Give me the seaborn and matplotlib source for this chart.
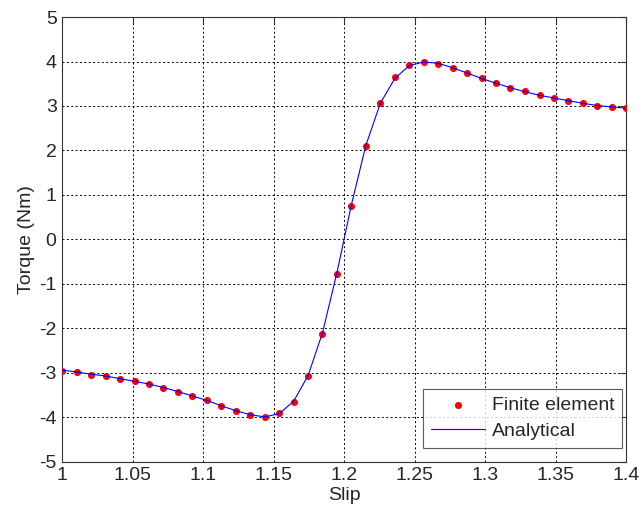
import pandas as pd
import matplotlib
matplotlib.use("Agg")
import matplotlib.pyplot as plt
import seaborn as sns

# slip values of the finite element runs (40 points between 1 and 1.4)
slip = [1.0000, 1.0103, 1.0205, 1.0308, 1.0410, 1.0513, 1.0615, 1.0718, 1.0821, 1.0923,
        1.1026, 1.1128, 1.1231, 1.1333, 1.1436, 1.1538, 1.1641, 1.1744, 1.1846, 1.1949,
        1.2051, 1.2154, 1.2256, 1.2359, 1.2462, 1.2564, 1.2667, 1.2769, 1.2872, 1.2974,
        1.3077, 1.3179, 1.3282, 1.3385, 1.3487, 1.3590, 1.3692, 1.3795, 1.3897, 1.4000]

torque_fe = [-2.95, -2.99, -3.04, -3.07, -3.14, -3.19, -3.24, -3.33, -3.42, -3.53,
             -3.62, -3.74, -3.86, -3.94, -4.00, -3.91, -3.65, -3.08, -2.12, -0.77,
             0.75, 2.10, 3.07, 3.65, 3.92, 3.98, 3.95, 3.85, 3.74, 3.62,
             3.51, 3.41, 3.33, 3.24, 3.18, 3.12, 3.07, 3.01, 2.98, 2.95]

torque_analytical = [-2.94, -2.98, -3.03, -3.07, -3.13, -3.19, -3.25, -3.33, -3.42, -3.52,
                     -3.62, -3.74, -3.85, -3.94, -3.99, -3.92, -3.64, -3.06, -2.10, -0.74,
                     0.78, 2.12, 3.06, 3.62, 3.91, 3.99, 3.96, 3.86, 3.74, 3.62,
                     3.51, 3.41, 3.32, 3.24, 3.18, 3.12, 3.06, 3.01, 2.98, 2.95]

xticks = [1, 1.05, 1.1, 1.15, 1.2, 1.25, 1.3, 1.35, 1.4]
xticklabels = ["1", "1.05", "1.1", "1.15", "1.2", "1.25", "1.3", "1.35", "1.4"]
yticks = list(range(-5, 6))

df = pd.DataFrame({"Slip": slip, "FE": torque_fe, "Analytical": torque_analytical})

sns.set_style("white")
plt.rcParams["font.family"] = ["Liberation Sans", "DejaVu Sans"]
plt.rcParams["font.size"] = 14
plt.rcParams["axes.unicode_minus"] = False

fig = plt.figure(figsize=(6.41, 5.16), dpi=100)
ax = fig.add_axes([0.097, 0.105, 0.880, 0.862])

sns.scatterplot(data=df, x="Slip", y="FE", ax=ax, color="red", s=26,
                edgecolor="red", linewidth=0, label="Finite element", zorder=3)
sns.lineplot(data=df, x="Slip", y="Analytical", ax=ax, color="blue", linewidth=0.8,
             label="Analytical", zorder=4)

ax.set_xlim(1, 1.4)
ax.set_ylim(-5, 5)
ax.set_xticks(xticks)
ax.set_xticklabels(xticklabels)
ax.set_yticks(yticks)
ax.set_xlabel("Slip", fontsize=14, labelpad=2)
ax.set_ylabel("Torque (Nm)", fontsize=14, labelpad=3)
ax.tick_params(direction="in", length=4, top=True, right=True, labelsize=14, pad=4, color="#333333")
ax.grid(True, color="black", linestyle=(0, (2, 2.5)), linewidth=0.7)
for sp in ax.spines.values():
    sp.set_color("#333333")
    sp.set_linewidth(0.8)

leg = ax.legend(loc="lower right", bbox_to_anchor=(0.993, 0.031), fontsize=14,
                frameon=True, fancybox=False, borderpad=0.4, labelspacing=0.45,
                handlelength=2.8, handletextpad=0.35, borderaxespad=0)
leg.get_frame().set_edgecolor("#333333")
leg.get_frame().set_linewidth(0.8)

fig.savefig("out.png", dpi=100, facecolor="white")
